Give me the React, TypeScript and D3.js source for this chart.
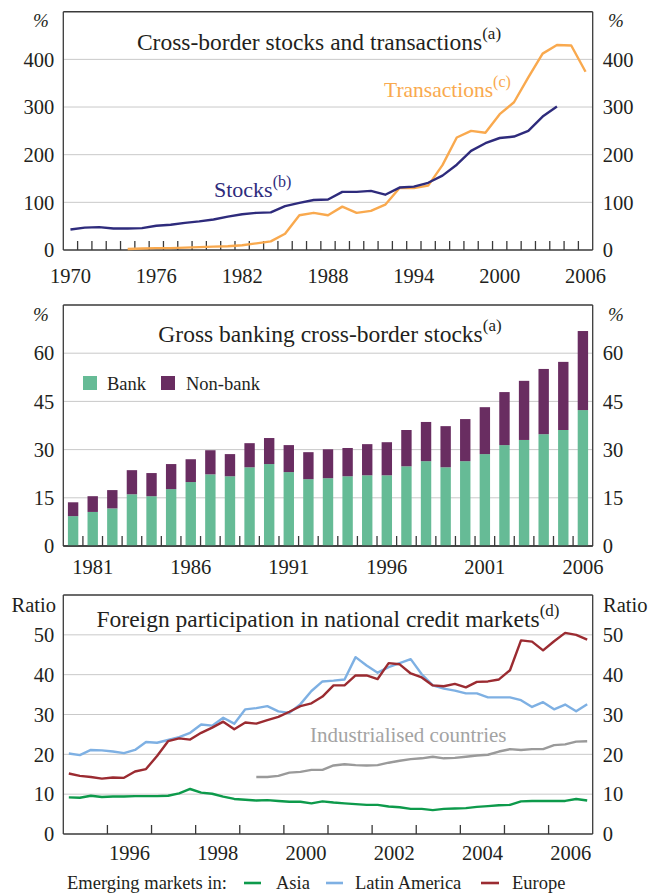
import React from 'react';
import * as d3 from 'd3';

// panel 1: cross-border stocks and transactions (per cent)
const stockYears = d3.range(1970, 2005);
const stocks = [43, 47, 48, 45, 45, 46, 51, 53, 57, 60, 64, 70, 75, 78, 79, 92, 99, 105, 106, 122, 122, 124, 116, 131, 133, 141, 156, 179, 208, 224, 235, 238, 250, 280, 301];
const transYears = d3.range(1974, 2007);
const transactions = [2, 3, 4, 4, 5, 6, 7, 8, 10, 14, 18, 34, 73, 78, 73, 91, 78, 82, 95, 130, 130, 135, 178, 236, 250, 246, 285, 310, 362, 412, 430, 429, 374];
const p1Years = d3.range(1970, 2007);
const p1Labels = [1970, 1976, 1982, 1988, 1994, 2000, 2006];
const p1Ticks = [0, 100, 200, 300, 400];

// panel 2: gross banking cross-border stocks
const barYears = d3.range(1980, 2007);
const bank = [9.3, 10.6, 11.7, 16.1, 15.5, 17.7, 19.9, 22.3, 21.7, 24.5, 25.5, 23.0, 20.8, 21.1, 21.7, 22.0, 22.0, 24.8, 26.4, 24.5, 26.4, 28.6, 31.4, 33.0, 34.8, 36.1, 42.3];
const totals = [13.6, 15.5, 17.4, 23.6, 22.7, 25.5, 27.0, 29.8, 28.6, 32.0, 33.6, 31.4, 29.2, 30.1, 30.5, 31.7, 32.3, 36.1, 38.6, 37.3, 39.5, 43.2, 47.9, 51.4, 55.1, 57.3, 66.9];
const p2Labels = [1981, 1986, 1991, 1996, 2001, 2006];
const p2Ticks = [0, 15, 30, 45, 60];

// panel 3: foreign participation, quarterly 1995 Q1 - 2006 Q4
const quarters = d3.range(48).map(k => 1995 + (k + 0.5) / 4);
const asia = [9.2, 9.1, 9.6, 9.3, 9.4, 9.4, 9.5, 9.5, 9.5, 9.6, 10.2, 11.3, 10.4, 10.1, 9.4, 8.8, 8.6, 8.4, 8.5, 8.3, 8.1, 8.1, 7.7, 8.2, 7.9, 7.7, 7.5, 7.3, 7.3, 6.9, 6.7, 6.3, 6.3, 6.0, 6.3, 6.4, 6.5, 6.8, 7.0, 7.2, 7.3, 8.2, 8.3, 8.3, 8.3, 8.3, 8.8, 8.4];
const latam = [20.2, 19.8, 21.1, 21.0, 20.7, 20.3, 21.1, 23.1, 22.9, 23.6, 24.3, 25.4, 27.5, 27.2, 29.2, 27.7, 31.3, 31.6, 32.1, 30.8, 30.4, 32.6, 35.9, 38.3, 38.5, 38.8, 44.4, 42.3, 40.5, 41.9, 42.9, 43.9, 40.1, 37.3, 36.5, 36.0, 35.3, 35.3, 34.3, 34.3, 34.3, 33.6, 31.9, 33.1, 31.3, 32.5, 30.8, 32.6];
const europe = [15.2, 14.6, 14.3, 13.9, 14.2, 14.1, 15.7, 16.3, 19.6, 23.3, 24.0, 23.7, 25.4, 26.7, 28.2, 26.3, 28.0, 27.7, 28.6, 29.4, 30.7, 32.1, 32.8, 34.5, 37.3, 37.3, 39.8, 39.8, 38.9, 42.9, 42.6, 40.3, 39.3, 37.3, 37.1, 37.7, 36.8, 38.2, 38.3, 38.8, 41.1, 48.6, 48.3, 46.1, 48.4, 50.5, 50.0, 48.8];
const industrial = [14.3, 14.3, 14.6, 15.4, 15.6, 16.1, 16.1, 17.2, 17.5, 17.3, 17.2, 17.3, 17.9, 18.4, 18.8, 19.0, 19.4, 19.0, 19.1, 19.4, 19.7, 19.9, 20.7, 21.3, 21.1, 21.3, 21.3, 22.3, 22.5, 23.2, 23.3];
const industrialStart = 17;
const p3Labels = [1996, 1998, 2000, 2002, 2004, 2006];
const p3Ticks = [0, 10, 20, 30, 40, 50];

const FONT = '"Liberation Serif", "Times New Roman", serif';
const TXT = '#231f20';
const GRID = '#c9c9c9';
const FRAME = '#3a3a3a';
const L = 63.3, R = 592.7;
const AX = 20.5;

function Frame({ top, bottom, y, ticks, unit }: any) {
  const pct = unit === '%';
  return (
    <g>
      {ticks.filter((t: number) => t > 0).map((t: number) => (
        <line key={t} x1={L} x2={R} y1={y(t)} y2={y(t)} stroke={GRID} strokeWidth={1} />
      ))}
      {ticks.map((t: number) => (
        <g key={'l' + t} fontSize={AX}>
          <text x={L - 9} y={y(t)} dy="0.35em" textAnchor="end">{t}</text>
          <text x={R + 10} y={y(t)} dy="0.35em" textAnchor="start">{t}</text>
        </g>
      ))}
      {pct ? (
        <g fontSize={19} fontStyle="italic">
          <text x={41} y={top + 9} dy="0.35em" textAnchor="middle">%</text>
          <text x={616} y={top + 9} dy="0.35em" textAnchor="middle">%</text>
        </g>
      ) : (
        <g fontSize={AX}>
          <text x={56} y={top + 10} dy="0.35em" textAnchor="end">{unit}</text>
          <text x={603} y={top + 10} dy="0.35em" textAnchor="start">{unit}</text>
        </g>
      )}
      <line x1={L} x2={R} y1={top} y2={top} stroke={FRAME} strokeWidth={1.6} />
      <line x1={L} x2={L} y1={top} y2={bottom} stroke={FRAME} strokeWidth={1.3} />
      <line x1={R} x2={R} y1={top} y2={bottom} stroke={FRAME} strokeWidth={1.3} />
      <line x1={L} x2={R} y1={bottom} y2={bottom} stroke={FRAME} strokeWidth={1.6} />
    </g>
  );
}

function Title({ x, y, text, sup }: any) {
  return (
    <text x={x} y={y} textAnchor="middle" fontSize={23.5}>
      {text}
      <tspan fontSize={17} dy={-11}>{sup}</tspan>
    </text>
  );
}

export default function App() {
  // ---------- panel 1
  const t1 = 11.7, b1 = 250;
  const x1 = d3.scaleBand<number>().domain(p1Years).range([L, R]);
  const y1 = d3.scaleLinear().domain([0, 500]).range([b1, t1]);
  const cx1 = (yr: number) => (x1(yr) as number) + x1.bandwidth() / 2;
  const line1 = d3.line<[number, number]>().x(d => cx1(d[0])).y(d => y1(d[1]));
  const stockPts = stockYears.map((yr, i) => [yr, stocks[i]] as [number, number]);
  const transPts = transYears.map((yr, i) => [yr, transactions[i]] as [number, number]);

  // ---------- panel 2
  const t2 = 305, b2 = 546;
  const x2 = d3.scaleBand<number>().domain(barYears).range([L, R]).paddingInner(0.47).paddingOuter(0.235);
  const x2step = d3.scaleBand<number>().domain(barYears).range([L, R]);
  const y2 = d3.scaleLinear().domain([0, 75]).range([b2, t2]);

  // ---------- panel 3
  const t3 = 595, b3 = 834;
  const x3 = d3.scaleLinear().domain([1995, 2007]).range([L, R]);
  const y3 = d3.scaleLinear().domain([0, 60]).range([b3, t3]);
  const line3 = d3.line<number>().x((_, i) => x3(quarters[i])).y(d => y3(d));
  const lineInd = d3.line<number>().x((_, i) => x3(quarters[i + industrialStart])).y(d => y3(d));
  const yearTicks3 = d3.range(1996, 2007);

  const colors = { asia: '#0d9a4b', latam: '#7eb0e3', europe: '#9b2b31', ind: '#9a9a9a' };

  return (
    <svg width={648} height={895} style={{ position: 'absolute', left: 0, top: 0, background: '#fff' }}
      fontFamily={FONT} fill={TXT}>
      {/* Panel 1 */}
      <Frame top={t1} bottom={b1} y={y1} ticks={p1Ticks} unit="%" />
      {p1Years.slice(1).map(yr => (
        <line key={yr} x1={x1(yr)} x2={x1(yr)} y1={b1} y2={b1 - 9} stroke={FRAME} strokeWidth={1.3} />
      ))}
      {p1Labels.map(yr => (
        <text key={yr} x={cx1(yr)} y={283} textAnchor="middle" fontSize={AX}>{yr}</text>
      ))}
      <path d={line1(transPts) || ''} fill="none" stroke="#f9a94e" strokeWidth={2.4} strokeLinejoin="round" />
      <path d={line1(stockPts) || ''} fill="none" stroke="#2e2b7c" strokeWidth={2.4} strokeLinejoin="round" />
      <Title x={319} y={50} text="Cross-border stocks and transactions" sup="(a)" />
      <text x={214} y={197} fontSize={22} fill="#2e2b7c">Stocks<tspan fontSize={16} dy={-10}>(b)</tspan></text>
      <text x={384} y={97} fontSize={21.5} fill="#f9a94e">Transactions<tspan fontSize={16} dy={-10}>(c)</tspan></text>

      {/* Panel 2 */}
      <Frame top={t2} bottom={b2} y={y2} ticks={p2Ticks} unit="%" />
      {barYears.map((yr, i) => (
        <g key={yr}>
          <rect x={x2(yr)} width={x2.bandwidth()} y={y2(bank[i])} height={y2(0) - y2(bank[i])} fill="#66bb96" />
          <rect x={x2(yr)} width={x2.bandwidth()} y={y2(totals[i])} height={y2(bank[i]) - y2(totals[i])} fill="#692d61" />
        </g>
      ))}
      {barYears.slice(1).map(yr => (
        <line key={'t' + yr} x1={x2step(yr)} x2={x2step(yr)} y1={b2} y2={b2 - 10} stroke={FRAME} strokeWidth={1.3} />
      ))}
      <line x1={L} x2={R} y1={b2} y2={b2} stroke={FRAME} strokeWidth={1.6} />
      {p2Labels.map(yr => (
        <text key={yr} x={(x2step(yr) as number) + x2step.bandwidth() / 2} y={574} textAnchor="middle" fontSize={AX}>{yr}</text>
      ))}
      <Title x={330} y={342} text="Gross banking cross-border stocks" sup="(a)" />
      <rect x={83} y={376} width={14} height={14} fill="#66bb96" />
      <text x={107} y={390} fontSize={18.5}>Bank</text>
      <rect x={161} y={376} width={14} height={14} fill="#692d61" />
      <text x={186} y={390} fontSize={18.5}>Non-bank</text>

      {/* Panel 3 */}
      <Frame top={t3} bottom={b3} y={y3} ticks={p3Ticks} unit="Ratio" />
      {yearTicks3.map(yr => (
        <line key={yr} x1={x3(yr)} x2={x3(yr)} y1={b3} y2={b3 - 9} stroke={FRAME} strokeWidth={1.3} />
      ))}
      {p3Labels.map(yr => (
        <text key={yr} x={x3(yr + 0.5)} y={860} textAnchor="middle" fontSize={AX}>{yr}</text>
      ))}
      <path d={lineInd(industrial) || ''} fill="none" stroke={colors.ind} strokeWidth={2.4} strokeLinejoin="round" />
      <path d={line3(asia) || ''} fill="none" stroke={colors.asia} strokeWidth={2.4} strokeLinejoin="round" />
      <path d={line3(latam) || ''} fill="none" stroke={colors.latam} strokeWidth={2.4} strokeLinejoin="round" />
      <path d={line3(europe) || ''} fill="none" stroke={colors.europe} strokeWidth={2.4} strokeLinejoin="round" />
      <Title x={328} y={627} text="Foreign participation in national credit markets" sup="(d)" />
      <text x={310} y={742} fontSize={21} fill="#a3a3a3">Industrialised countries</text>

      {/* legend */}
      <g fontSize={18.5}>
        <text x={67} y={889}>Emerging markets in:</text>
        <line x1={244} x2={261} y1={883} y2={883} stroke={colors.asia} strokeWidth={2.6} />
        <text x={276} y={889}>Asia</text>
        <line x1={326} x2={343} y1={883} y2={883} stroke={colors.latam} strokeWidth={2.6} />
        <text x={355} y={889}>Latin America</text>
        <line x1={481} x2={499} y1={883} y2={883} stroke={colors.europe} strokeWidth={2.6} />
        <text x={512} y={889}>Europe</text>
      </g>
    </svg>
  );
}
